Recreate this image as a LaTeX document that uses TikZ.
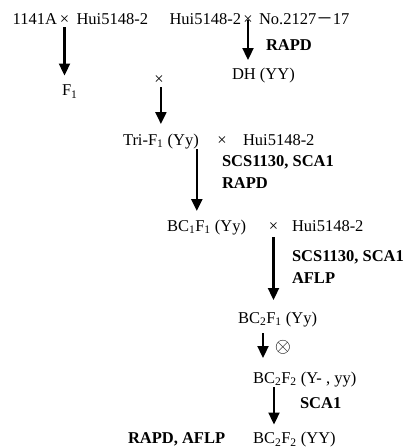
\documentclass[tikz,border=0pt]{standalone}
\usepackage{fontspec}
\setmainfont{Liberation Serif}
\newfontfamily\cjkfont{Noto Sans CJK SC}
\usetikzlibrary{arrows.meta,calc}
\tikzset{
  lbl/.style={inner sep=0pt, outer sep=0pt, text height=11pt, text depth=3pt,
              anchor=base west, font=\fontsize{16.5}{20}\selectfont},
  mk/.style={lbl, font=\fontsize{16.5}{20}\selectfont\bfseries},
  cross/.style={lbl, anchor=base},
  arr/.style={line width=2.3pt, -{Triangle[width=11pt,length=12pt]}},
}
\begin{document}
\begin{tikzpicture}[x=1pt,y=-1pt]
\useasboundingbox (0,0) rectangle (406,448);
% row 1
\node[lbl] (p1) at (12.7,24) {1141A};
\node[cross] (x1) at (64.5,24) {×};
\node[lbl,anchor=base east] (p2) at (148,24) {Hui5148-2};
\node[lbl,anchor=base east] (p3) at (241,24) {Hui5148-2};
\node[cross] (x2) at (248,24) {×};
\node[lbl] (p4) at (259,24) {No.2127{\cjkfont －}17};
\node[mk] (m1) at (266,50) {RAPD};
\node[lbl] (dh) at (232,79) {DH (YY)};
\node[lbl] (f1) at (62,95.5) {F\textsubscript{1}};
\node[lbl,anchor=center] (x3) at (159,80) {×};
% Tri row
\node[lbl] (tri) at (123,145) {Tri-F\textsubscript{1} (Yy)};
\node[cross] (x5) at (222,145) {×};
\node[lbl] (p5) at (243,145) {Hui5148-2};
\node[mk] (m2) at (222,166) {SCS1130, SCA1};
\node[mk] (m3) at (222,188) {RAPD};
% BC1 row
\node[lbl] (bc1) at (167,231) {BC\textsubscript{1}F\textsubscript{1} (Yy)};
\node[cross] (x4) at (273.5,231) {×};
\node[lbl] (p6) at (292,231) {Hui5148-2};
\node[mk] (m4) at (292,261) {SCS1130, SCA1};
\node[mk] (m5) at (292,283) {AFLP};
% BC2 rows
\node[lbl] (bc2f1) at (238,323) {BC\textsubscript{2}F\textsubscript{1} (Yy)};
\node[inner sep=0pt,font=\fontsize{22}{24}\selectfont] (self) at (283,347) {$\otimes$};
\node[lbl] (bc2f2a) at (253,383) {BC\textsubscript{2}F\textsubscript{2} (Y- , yy)};
\node[mk] (m6) at (300,408) {SCA1};
\node[mk] (m7) at (128,443.5) {RAPD, AFLP};
\node[lbl] (bc2f2b) at (253,443.5) {BC\textsubscript{2}F\textsubscript{2} (YY)};
% arrows
\draw[arr] (x1.south) -- ($(x1.south |- f1.north)+(0,-9)$);
\draw[arr] (x2.center) -- ($(x2.center |- dh.north)+(0,-8)$);
\draw[arr] (x3.south -| tri.north) -- ($(tri.north)+(0,-10)$);
\draw[arr] ($(tri.south east)+(-2,1)$) -- ($(tri.south east |- bc1.north)+(-2,-9)$);
\draw[arr] ($(x4.south)+(0,3)$) -- ($(x4.south |- bc2f1.north)+(0,-12)$);
\draw[arr] ($(bc2f1.south west)+(25,7)$) -- ($(bc2f1.south west |- bc2f2a.north)+(25,-14)$);
\draw[arr] ($(bc2f2a.south west)+(21,1)$) -- ($(bc2f2a.south west |- bc2f2b.north)+(21,-8)$);
\end{tikzpicture}
\end{document}
